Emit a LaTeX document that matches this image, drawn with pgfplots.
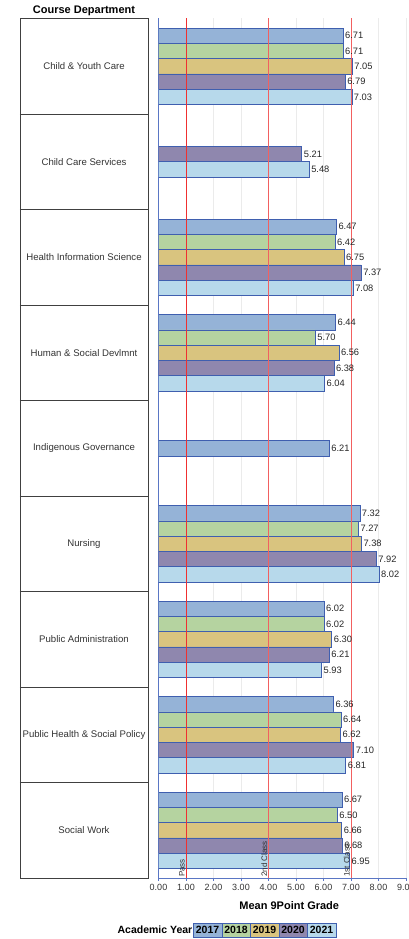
\documentclass[border=0pt]{standalone}
\usepackage{fontspec}
\setmainfont{Liberation Sans}
\usepackage{pgfplots}
\pgfplotsset{compat=1.18}
\pgfplotsset{/pgf/number format/assume math mode=true}

\definecolor{c2017}{HTML}{95B3D7}
\definecolor{c2018}{HTML}{B5D3A0}
\definecolor{c2019}{HTML}{D9C47F}
\definecolor{c2020}{HTML}{8F87AE}
\definecolor{c2021}{HTML}{B7D9EB}
\definecolor{edge}{HTML}{3F5FAF}
\definecolor{axisblue}{HTML}{5A76C4}
\definecolor{gridgray}{HTML}{EBEBEB}
\definecolor{refred}{HTML}{F03030}
\definecolor{refpink}{HTML}{F26060}
\definecolor{labgray}{HTML}{333333}

\begin{document}
\begin{tikzpicture}
% left panel: department names
\begin{axis}[
    at={(20pt,61pt)}, anchor=south west, scale only axis,
    width=128pt, height=859.5pt,
    xmin=0, xmax=1, ymin=-0.5, ymax=8.5,
    xtick=\empty,
    ytick={0,...,8},
    yticklabels={Social Work, Public Health \& Social Policy, Public Administration, Nursing, Indigenous Governance, Human \& Social Devlmnt, Health Information Science, Child Care Services, Child \& Youth Care},
    major tick length=0pt,
    yticklabel style={anchor=center, xshift=64pt, font=\fontsize{9.6}{11}\selectfont, text=labgray},
    extra y ticks={0.5,1.5,...,7.5},
    extra y tick labels={},
    extra y tick style={grid=major},
    grid style={draw=black!75, line width=0.6pt},
    axis line style={draw=black!75, line width=0.6pt},
]
\end{axis}
\node[anchor=base, font=\bfseries\fontsize{11}{13}\selectfont, inner sep=0pt] at (84pt,925pt) {Course Department};

% main bar chart
\begin{axis}[
    at={(158.5pt,61pt)}, anchor=south west, scale only axis,
    width=247.5pt, height=859.5pt,
    xmin=0, xmax=9, ymin=-0.5, ymax=8.5,
    axis x line*=bottom, axis y line*=left,
    axis line style={draw=axisblue, line width=0.6pt},
    xtick={0,...,9}, ytick=\empty,
    tick align=outside, major tick length=3pt,
    tick style={draw=axisblue},
    xmajorgrids, grid style={draw=gridgray, line width=0.6pt},
    xticklabel style={font=\fontsize{9}{10}\selectfont, text=black!80,
        /pgf/number format/.cd, fixed, fixed zerofill, precision=2},
    xlabel={Mean 9Point Grade},
    xlabel style={font=\bfseries\fontsize{11}{13}\selectfont, xshift=7pt, yshift=-3.5pt},
    xbar, bar shift=0pt, bar width=0.16,
    point meta=x,
    nodes near coords={\pgfmathprintnumber[fixed,fixed zerofill,precision=2]{\pgfplotspointmeta}},
    nodes near coords style={font=\fontsize{9.3}{10}\selectfont, text=black!85, inner sep=1.8pt},
    every axis plot/.append style={draw=edge, line width=0.6pt},
]
% y = category centre (Child & Youth Care = 8 ... Social Work = 0) + bar offset
\addplot[fill=c2017] coordinates {(6.71,8.32) (6.47,6.32) (6.44,5.32) (6.21,4) (7.32,3.32) (6.02,2.32) (6.36,1.32) (6.67,0.32)};
\addplot[fill=c2018] coordinates {(6.71,8.16) (6.42,6.16) (5.70,5.16) (7.27,3.16) (6.02,2.16) (6.64,1.16) (6.50,0.16)};
\addplot[fill=c2019] coordinates {(7.05,8) (6.75,6) (6.56,5) (7.38,3) (6.30,2) (6.62,1) (6.66,0)};
\addplot[fill=c2020] coordinates {(6.79,7.84) (5.21,7.08) (7.37,5.84) (6.38,4.84) (7.92,2.84) (6.21,1.84) (7.10,0.84) (6.68,-0.16)};
\addplot[fill=c2021] coordinates {(7.03,7.68) (5.48,6.92) (7.08,5.68) (6.04,4.68) (8.02,2.68) (5.93,1.68) (6.81,0.68) (6.95,-0.32)};

% reference lines
\draw[refred, line width=0.7pt] (axis cs:1,-0.5) -- (axis cs:1,8.5);
\draw[refpink, line width=0.8pt] (axis cs:4,-0.5) -- (axis cs:4,8.5);
\draw[refpink, line width=0.8pt] (axis cs:7,-0.5) -- (axis cs:7,8.5);
\node[rotate=90, anchor=south west, font=\fontsize{8}{9}\selectfont, text=labgray, inner sep=1pt] at (axis cs:1,-0.5) {Pass};
\node[rotate=90, anchor=south west, font=\fontsize{8}{9}\selectfont, text=labgray, inner sep=1pt] at (axis cs:4,-0.5) {2nd Class};
\node[rotate=90, anchor=south west, font=\fontsize{8}{9}\selectfont, text=labgray, inner sep=1pt] at (axis cs:7,-0.5) {1st Class};
\end{axis}

% legend
\node[anchor=east, font=\bfseries\fontsize{10.5}{12}\selectfont, inner sep=0.5pt] at (193pt,9pt) {Academic Year};
\foreach \yr/\xx in {2017/193, 2018/221.5, 2019/250, 2020/278.5, 2021/307}{
  \node[draw=edge, fill=c\yr, line width=0.6pt, anchor=west, minimum width=28.5pt, minimum height=14pt, inner sep=0pt,
        font=\bfseries\fontsize{10.5}{12}\selectfont] at (\xx pt,9pt) {\yr};
}

\pgfresetboundingbox
\useasboundingbox (0,0) rectangle (409pt,939pt);
\end{tikzpicture}
\end{document}
